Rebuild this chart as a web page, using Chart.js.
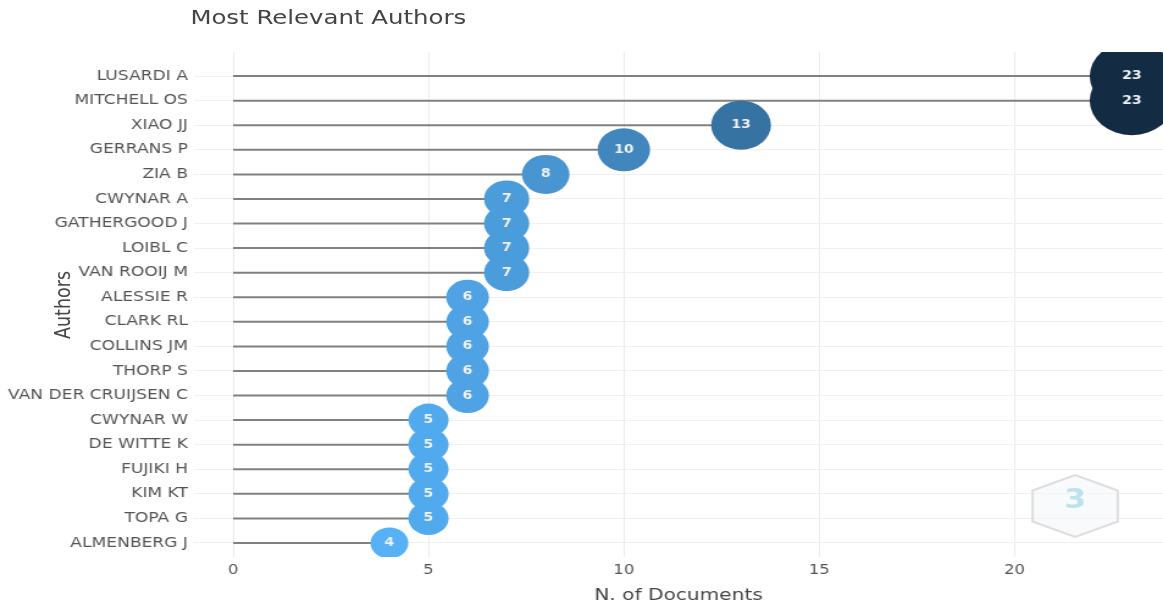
<!DOCTYPE html>
<html>
<head>
<meta charset="utf-8">
<script src="https://cdn.jsdelivr.net/npm/chart.js@4.4.0/dist/chart.umd.min.js"></script>
<style>
  html, body { margin: 0; padding: 0; background: #fff; overflow: hidden; }
  /* l'original est légèrement étiré en largeur */
  #wrap { position: relative; width: 953px; height: 610px; transform: scaleX(1.2204); transform-origin: 0 0; }
  #title { position: absolute; left: 156px; top: 5px; font: 20px "DejaVu Sans", sans-serif; color: #444; }
  #ytitle { position: absolute; left: 51px; top: 305px; transform: translate(-50%, -50%) rotate(-90deg);
            font: 17.5px "DejaVu Sans", sans-serif; color: #444; white-space: nowrap; }
</style>
</head>
<body>
<div id="wrap">
  <canvas id="chart" width="953" height="610"></canvas>
  <div id="title">Most Relevant Authors</div>
  <div id="ytitle">Authors</div>
</div>
<script>
// données
const authors = ['LUSARDI A', 'MITCHELL OS', 'XIAO JJ', 'GERRANS P', 'ZIA B', 'CWYNAR A',
  'GATHERGOOD J', 'LOIBL C', 'VAN ROOIJ M', 'ALESSIE R', 'CLARK RL', 'COLLINS JM',
  'THORP S', 'VAN DER CRUIJSEN C', 'CWYNAR W', 'DE WITTE K', 'FUJIKI H', 'KIM KT',
  'TOPA G', 'ALMENBERG J'];
const documents = [23, 23, 13, 10, 8, 7, 7, 7, 7, 6, 6, 6, 6, 6, 5, 5, 5, 5, 5, 4];
const xTicks = [0, 5, 10, 15, 20];

const FONT = '"DejaVu Sans", sans-serif';
const lowColor = [0x56, 0xb1, 0xf7];
const highColor = [0x13, 0x2b, 0x43];
const vMin = Math.min(...documents), vMax = Math.max(...documents);

function colorFor(v) {
  const t = (v - vMin) / (vMax - vMin);
  const c = lowColor.map((a, i) => Math.round(a + (highColor[i] - a) * t));
  return `rgb(${c[0]},${c[1]},${c[2]})`;
}
function radiusFor(v) { return 11.5 + v; }

const bubbleSet = {
  type: 'bubble',
  data: documents.map((v, i) => ({ x: v, y: i, r: radiusFor(v) })),
  backgroundColor: documents.map(colorFor),
  borderWidth: 0
};

const stemSets = documents.map((v, i) => ({
  type: 'line',
  data: [{ x: 0, y: i }, { x: v, y: i }],
  borderColor: '#808080',
  borderWidth: 2,
  pointRadius: 0
}));

const valueLabels = {
  id: 'valueLabels',
  afterDatasetsDraw(chart) {
    const meta = chart.getDatasetMeta(0);
    const ctx = chart.ctx;
    ctx.save();
    ctx.font = 'bold 11.5px ' + FONT;
    ctx.fillStyle = '#eef2f6';
    ctx.textAlign = 'center';
    ctx.textBaseline = 'middle';
    meta.data.forEach((pt, i) => ctx.fillText(documents[i], pt.x, pt.y));
    ctx.restore();
  }
};

// petit logo en filigrane
const watermark = {
  id: 'watermark',
  afterDraw(chart) {
    const ctx = chart.ctx, cx = 881, cy = 506, r = 31;
    ctx.save();
    ctx.strokeStyle = '#dedede';
    ctx.lineWidth = 2;
    ctx.fillStyle = 'rgba(245,247,249,0.6)';
    ctx.beginPath();
    for (let k = 0; k < 6; k++) {
      const a = Math.PI / 6 + k * Math.PI / 3;
      const px = cx + r * Math.cos(a) * 1.3, py = cy + r * Math.sin(a);
      k ? ctx.lineTo(px, py) : ctx.moveTo(px, py);
    }
    ctx.closePath();
    ctx.fill();
    ctx.stroke();
    ctx.font = 'bold 26px ' + FONT;
    ctx.fillStyle = 'rgba(120,195,225,0.45)';
    ctx.textAlign = 'center';
    ctx.textBaseline = 'middle';
    ctx.fillText('3', cx, cy - 5);
    ctx.restore();
  }
};

new Chart(document.getElementById('chart'), {
  data: { datasets: [bubbleSet, ...stemSets] },
  options: {
    responsive: false,
    animation: false,
    layout: { autoPadding: false, padding: { top: 52, right: 0, left: 0, bottom: 0 } },
    plugins: { legend: { display: false }, tooltip: { enabled: false } },
    scales: {
      x: {
        type: 'linear',
        min: -1.0,
        max: 23.8,
        afterFit: s => { s.height = 53; },
        afterBuildTicks: s => { s.ticks = xTicks.map(v => ({ value: v })); },
        ticks: { color: '#555', font: { family: FONT, size: 13.5 }, padding: 5 },
        grid: { color: '#ececec', lineWidth: 1, drawTicks: false },
        border: { display: false },
        title: { display: true, text: 'N. of Documents', color: '#444',
                 font: { family: FONT, size: 16.5 }, padding: { top: 0, bottom: 4 } }
      },
      y: {
        type: 'linear',
        reverse: true,
        min: -0.98,
        max: 19.57,
        afterFit: s => { s.width = 159; },
        afterBuildTicks: s => { s.ticks = authors.map((a, i) => ({ value: i })); },
        ticks: {
          color: '#555',
          font: { family: FONT, size: 14 },
          padding: 5,
          autoSkip: false,
          callback: v => authors[v]
        },
        grid: { color: '#f0f0f0', lineWidth: 1, drawTicks: false },
        border: { display: false }
      }
    }
  },
  plugins: [valueLabels, watermark]
});
</script>
</body>
</html>
